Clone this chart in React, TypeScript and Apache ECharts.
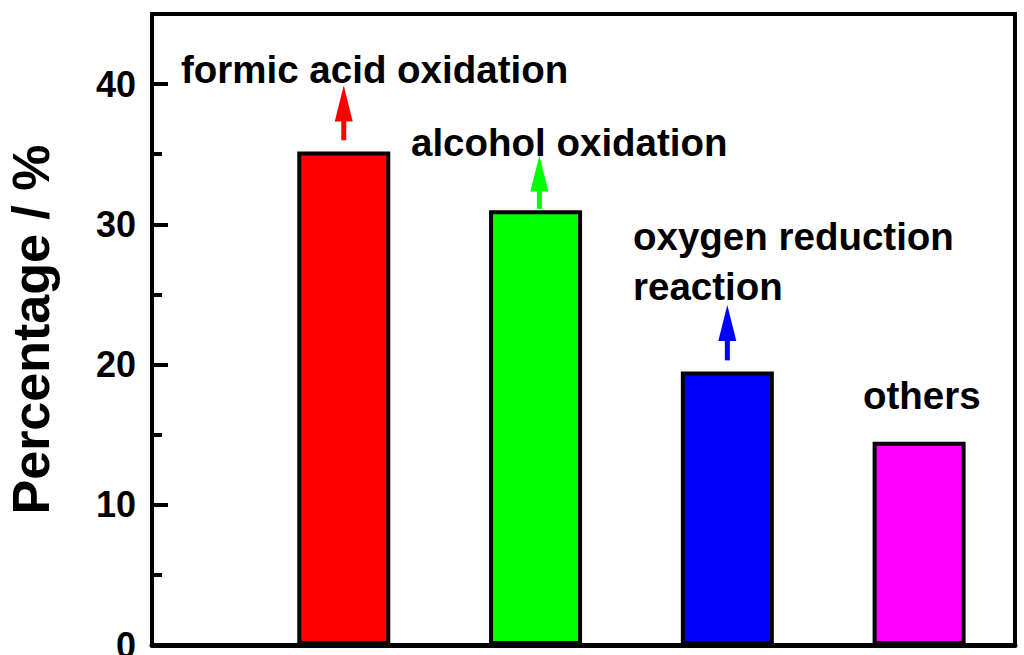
import React, { useEffect, useRef } from "react";
import * as echarts from "echarts";

const categories = ["formic acid oxidation", "alcohol oxidation", "oxygen reduction reaction", "others"];
const positions = [1, 2, 3, 4];
const values = [35.2, 31.0, 19.5, 14.5];
const barColors = ["#FF0000", "#00FF00", "#0000FF", "#FF00FF"];
const yTicks = [0, 10, 20, 30, 40];

// arrows: x position, start value, tip value
const arrowX = [1, 2.02, 3];
const arrowFrom = [36.0, 31.1, 20.3];
const arrowTo = [39.9, 34.9, 24.25];
const arrowColors = ["#FF0000", "#00FF00", "#0000FF"];

const FONT = "'Liberation Sans', Arial, Helvetica, sans-serif";

export default function App() {
  const ref = useRef<HTMLDivElement>(null);
  useEffect(() => {
    if (!ref.current) return;
    const chart = echarts.init(ref.current, null, { renderer: "svg" });
    const labelSize = 38.5;
    const mkText = (text: string, x: number, baseline: number) => ({
      type: "text",
      x,
      y: baseline - labelSize * 0.36,
      style: {
        text,
        font: `bold ${labelSize}px ${FONT}`,
        fill: "#000",
        textAlign: "left",
        textVerticalAlign: "middle",
      },
      z: 10,
    });
    chart.setOption({
      animation: false,
      backgroundColor: "#fff",
      grid: {
        left: 152,
        right: 9,
        top: 14,
        bottom: 10,
        show: true,
        borderColor: "#000",
        borderWidth: 4,
        backgroundColor: "transparent",
        containLabel: false,
        outerBoundsMode: "none",
      },
      xAxis: {
        type: "value",
        min: 0,
        max: 4.5,
        axisLine: { show: true, lineStyle: { color: "#000", width: 5 } },
        axisTick: { show: false },
        axisLabel: { show: false },
        splitLine: { show: false },
      },
      yAxis: {
        type: "value",
        min: 0,
        max: 45,
        interval: 10,
        name: "Percentage / %",
        nameLocation: "middle",
        nameRotate: 90,
        nameGap: 95,
        nameTextStyle: { fontSize: 52, fontWeight: "bold", fontFamily: FONT, color: "#000", lineHeight: 52 },
        axisLine: { show: true, lineStyle: { color: "#000", width: 4 } },
        axisTick: { show: true, inside: true, length: 16, lineStyle: { color: "#000", width: 4 } },
        minorTick: { show: true, splitNumber: 2, length: 10, lineStyle: { color: "#000", width: 4 } },
        axisLabel: {
          fontSize: 36,
          fontWeight: "bold",
          fontFamily: FONT,
          color: "#000",
          margin: 16,
          formatter: (v: number) => (yTicks.includes(v) ? String(v) : ""),
        },
        splitLine: { show: false },
      },
      series: [
        {
          type: "bar",
          barWidth: 93,
          data: positions.map((p, i) => ({
            value: [p, values[i]],
            name: categories[i],
            itemStyle: { color: barColors[i], borderColor: "#000", borderWidth: 4 },
          })),
        },
        {
          type: "custom",
          z: 5,
          data: arrowX.map((x, i) => [x, arrowFrom[i], arrowTo[i]]),
          renderItem: (params: any, api: any) => {
            const i = params.dataIndex;
            const x = api.value(0);
            const p0 = api.coord([x, api.value(1)]);
            const p1 = api.coord([x, api.value(2)]);
            const headLen = 36;
            const headW = 9;
            const color = arrowColors[i];
            return {
              type: "group",
              children: [
                {
                  type: "line",
                  shape: { x1: p0[0], y1: p0[1], x2: p1[0], y2: p1[1] + headLen - 2 },
                  style: { stroke: color, lineWidth: 5 },
                },
                {
                  type: "polygon",
                  shape: {
                    points: [
                      [p1[0], p1[1]],
                      [p1[0] - headW, p1[1] + headLen],
                      [p1[0] + headW, p1[1] + headLen],
                    ],
                  },
                  style: { fill: color },
                },
              ],
            };
          },
        },
      ],
      graphic: [
        mkText("formic acid oxidation", 181, 83),
        mkText("alcohol oxidation", 411, 156),
        mkText("oxygen reduction", 633, 250),
        mkText("reaction", 633, 300),
        mkText("others", 863, 409),
      ],
    });
    return () => chart.dispose();
  }, []);
  return (
    <div
      ref={ref}
      style={{ position: "absolute", left: 0, top: 0, width: 1024, height: 655 }}
    />
  );
}
